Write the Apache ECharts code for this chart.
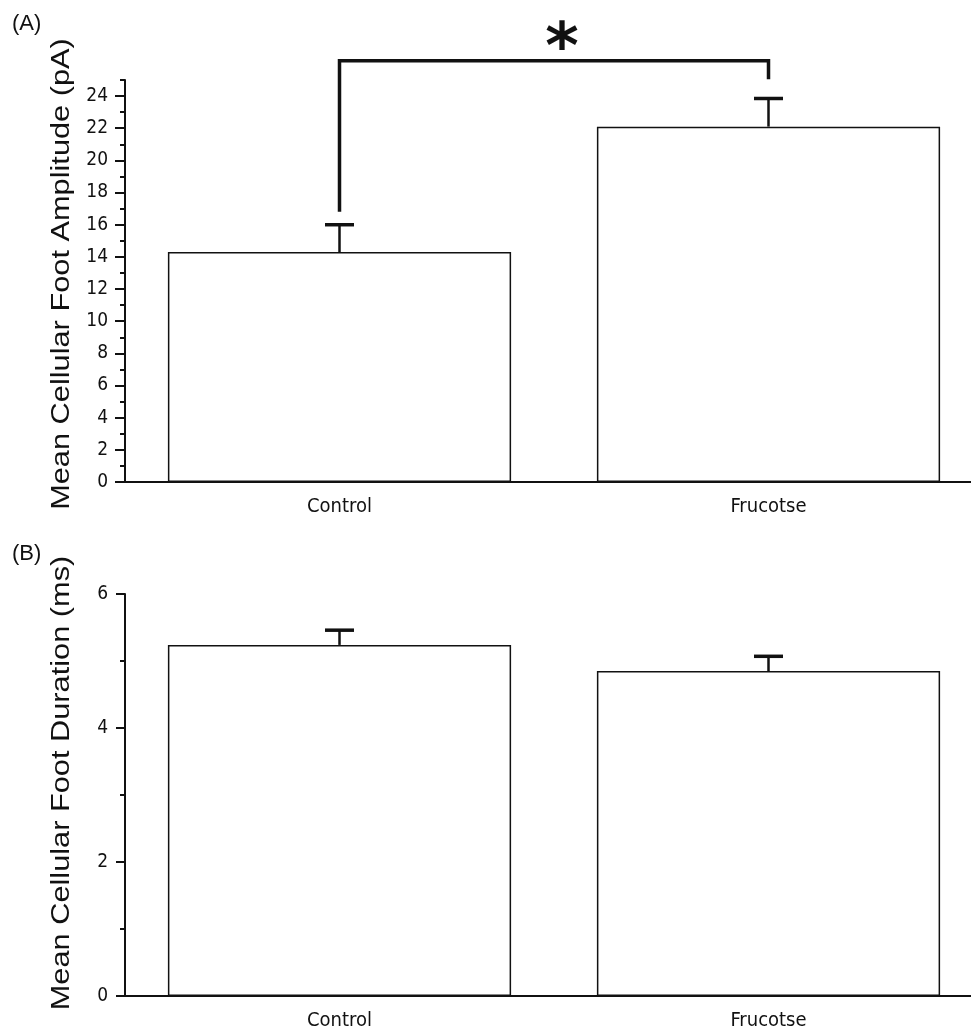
<!DOCTYPE html>
<html>
<head>
<meta charset="utf-8">
<script src="https://cdn.jsdelivr.net/npm/echarts@6/dist/echarts.min.js"></script>
<style>html,body{margin:0;padding:0;background:#fff}#c{width:971px;height:1036px}</style>
</head>
<body>
<div id="c"></div>
<script>
// ---- data ----
var categories = ['Control', 'Frucotse'];
var amplitudeMean = [14.3, 22.1];
var amplitudeSem = [1.7, 1.75];
var durationMean = [5.24, 4.85];
var durationSem = [0.22, 0.22];
// significance bracket for panel A: [left end value, bracket level, right end value]
var bracketA = [16.8, 26.2, 25.05];
var sigLabel = '*';
var ampMajorTicks = [0, 2, 4, 6, 8, 10, 12, 14, 16, 18, 20, 22, 24];
var ampMinorTicks = [1, 3, 5, 7, 9, 11, 13, 15, 17, 19, 21, 23, 25];
var ampTitle = 'Mean Cellular Foot Amplitude (pA)';
var durTitle = 'Mean Cellular Foot Duration (ms)';
var panelLabels = ['(A)', '(B)'];

var INK = '#111';
var NARROW = '"DejaVu Sans Condensed", "Liberation Sans Narrow", sans-serif';
var SANS = '"Liberation Sans", Arial, sans-serif';

function errData(means, sems) {
  return means.map(function (m, i) { return [i, m, m + sems[i]]; });
}
function renderErr(params, api) {
  var base = api.coord([api.value(0), api.value(1)]);
  var top = api.coord([api.value(0), api.value(2)]);
  var half = 14.5;
  return {
    type: 'group',
    children: [
      { type: 'line', shape: { x1: base[0], y1: base[1], x2: top[0], y2: top[1] }, style: { stroke: INK, lineWidth: 2.5 } },
      { type: 'line', shape: { x1: top[0] - half, y1: top[1], x2: top[0] + half, y2: top[1] }, style: { stroke: INK, lineWidth: 3.5 } }
    ]
  };
}
function renderBracket(params, api) {
  var l0 = api.coord([0, api.value(0)]);
  var lt = api.coord([0, api.value(1)]);
  var rt = api.coord([1, api.value(1)]);
  var r0 = api.coord([1, api.value(2)]);
  return {
    type: 'group',
    children: [
      { type: 'polyline', shape: { points: [l0, lt, rt, r0] }, style: { stroke: INK, lineWidth: 3.5, fill: null } },
      { type: 'text', x: (lt[0] + rt[0]) / 2 + 8, y: lt[1] + 23,
        style: { text: sigLabel, fill: INK, font: 'bold 64px "DejaVu Sans", sans-serif', textAlign: 'center', textVerticalAlign: 'bottom' } }
    ]
  };
}

var option = {
  backgroundColor: '#fff',
  animation: false,
  grid: [
    { left: 125, top: 80, width: 858, height: 402, outerBoundsMode: 'none', containLabel: false },
    { left: 125, top: 594, width: 858, height: 402, outerBoundsMode: 'none', containLabel: false }
  ],
  xAxis: [0, 1].map(function (g) {
    return {
      type: 'category', gridIndex: g, data: categories,
      axisLine: { show: true, lineStyle: { color: INK, width: 2 } },
      axisTick: { show: false },
      axisLabel: { color: INK, fontFamily: NARROW, fontSize: 20, margin: 15 }
    };
  }),
  yAxis: [
    {
      type: 'value', gridIndex: 0, min: 0, max: 25, interval: 1, position: 'left',
      axisLine: { show: true, lineStyle: { color: INK, width: 2 } },
      splitLine: { show: false },
      axisTick: { show: true, length: 10, customValues: ampMajorTicks, lineStyle: { color: INK, width: 2 } },
      axisLabel: { color: INK, fontFamily: NARROW, fontSize: 19, margin: 17, customValues: ampMajorTicks }
    },
    {
      type: 'value', gridIndex: 0, min: 0, max: 25, interval: 1, position: 'left', offset: 0,
      axisLine: { show: false }, splitLine: { show: false }, axisLabel: { show: false },
      axisTick: { show: true, length: 5, customValues: ampMinorTicks, lineStyle: { color: INK, width: 2 } }
    },
    {
      type: 'value', gridIndex: 1, min: 0, max: 6, interval: 2, position: 'left',
      axisLine: { show: true, lineStyle: { color: INK, width: 2 } },
      splitLine: { show: false },
      axisTick: { show: true, length: 9, lineStyle: { color: INK, width: 2 } },
      minorTick: { show: true, splitNumber: 2, length: 5, lineStyle: { color: INK, width: 2 } },
      axisLabel: { color: INK, fontFamily: NARROW, fontSize: 19, margin: 17 }
    }
  ],
  graphic: [
    { type: 'text', x: 62, y: 274, rotation: Math.PI / 2, scaleX: 1.23,
      style: { text: ampTitle, fill: INK, font: '25px ' + SANS, textAlign: 'center', textVerticalAlign: 'middle' } },
    { type: 'text', x: 62, y: 783, rotation: Math.PI / 2, scaleX: 1.23,
      style: { text: durTitle, fill: INK, font: '25px ' + SANS, textAlign: 'center', textVerticalAlign: 'middle' } },
    { type: 'text', left: 12, top: 13, style: { text: panelLabels[0], fill: INK, font: '22px ' + SANS } },
    { type: 'text', left: 12, top: 543, style: { text: panelLabels[1], fill: INK, font: '22px ' + SANS } }
  ],
  series: [
    { type: 'bar', xAxisIndex: 0, yAxisIndex: 0, data: amplitudeMean, barWidth: '80%',
      itemStyle: { color: '#fff', borderColor: INK, borderWidth: 1.5 }, silent: true },
    { type: 'custom', xAxisIndex: 0, yAxisIndex: 0, data: errData(amplitudeMean, amplitudeSem), renderItem: renderErr, z: 3 },
    { type: 'custom', xAxisIndex: 0, yAxisIndex: 0, data: [bracketA], renderItem: renderBracket, clip: false, z: 4 },
    { type: 'bar', xAxisIndex: 1, yAxisIndex: 2, data: durationMean, barWidth: '80%',
      itemStyle: { color: '#fff', borderColor: INK, borderWidth: 1.5 }, silent: true },
    { type: 'custom', xAxisIndex: 1, yAxisIndex: 2, data: errData(durationMean, durationSem), renderItem: renderErr, z: 3 }
  ]
};
var chart = echarts.init(document.getElementById('c'), null, { renderer: 'canvas' });
chart.setOption(option);
</script>
</body>
</html>
